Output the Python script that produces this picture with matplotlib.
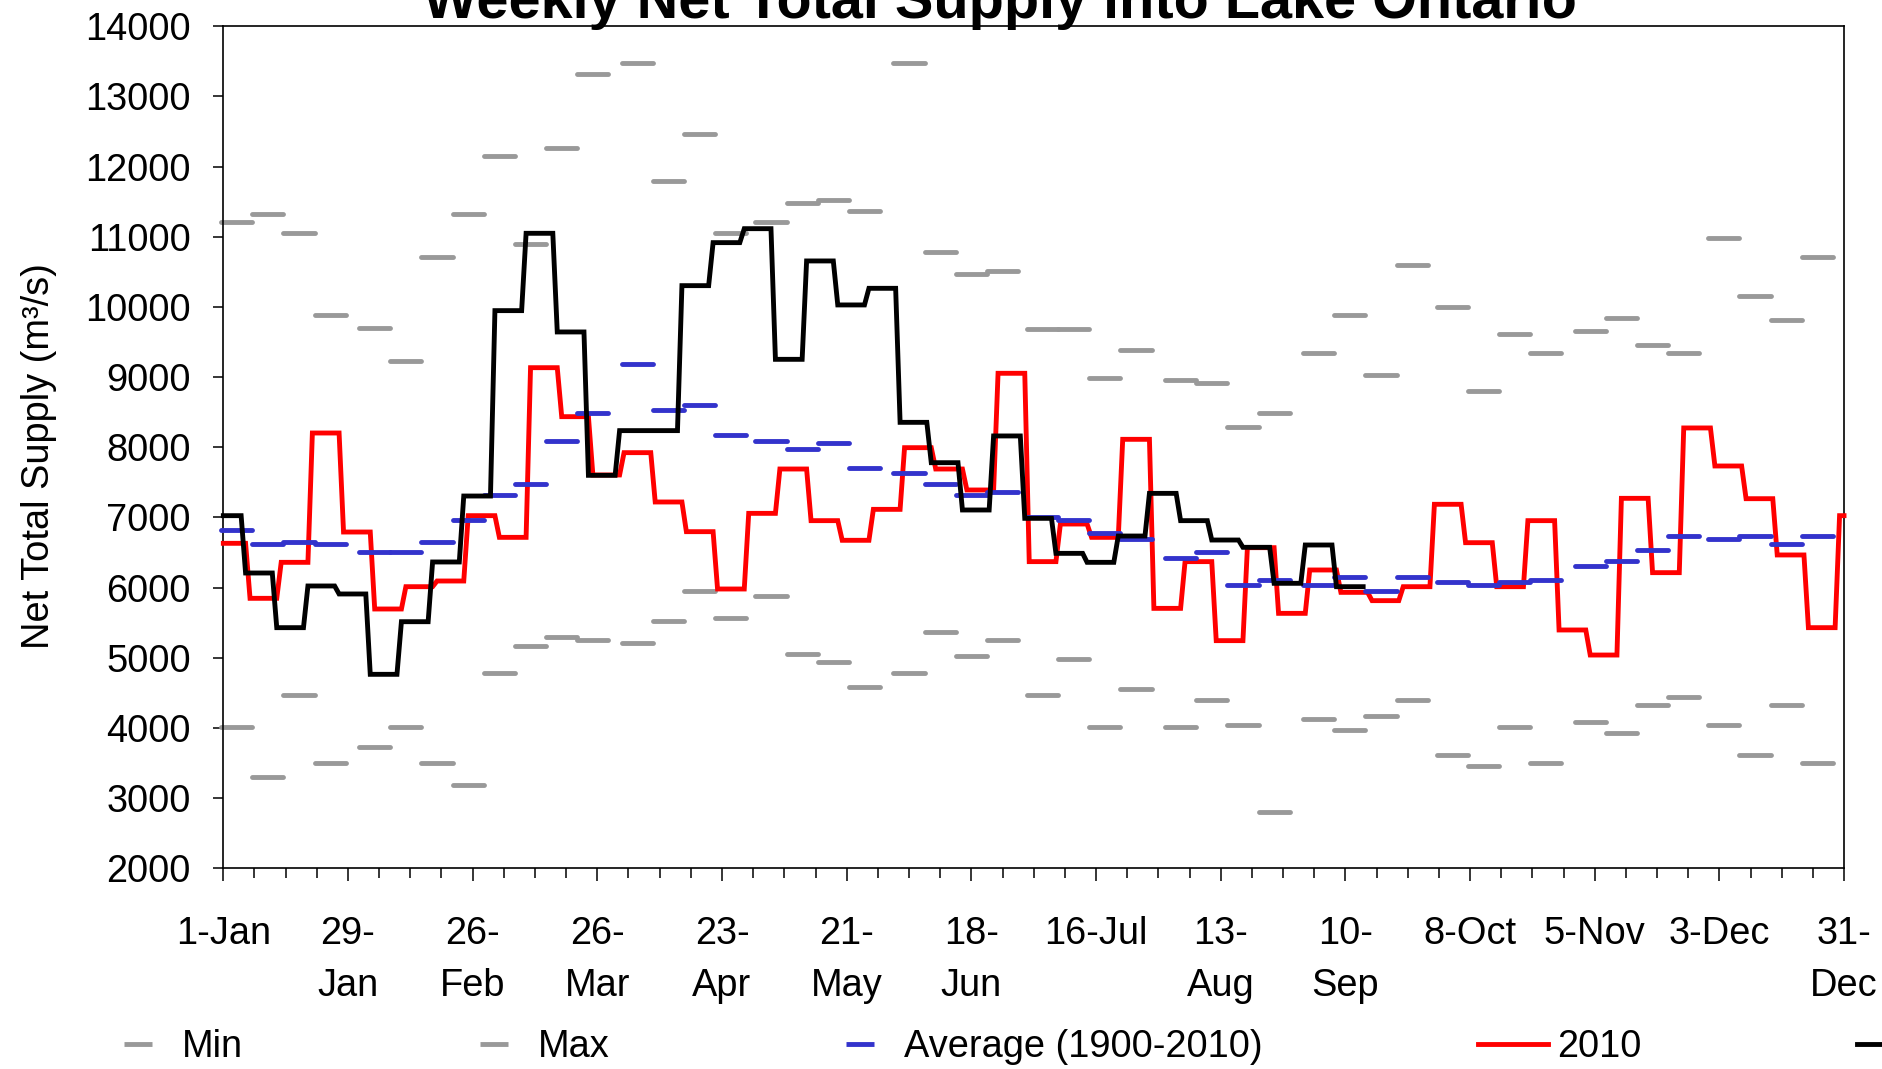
import numpy as np
import matplotlib
matplotlib.use("Agg")
import matplotlib.pyplot as plt
from matplotlib.lines import Line2D

plt.rcParams['font.family'] = ['Liberation Sans', 'DejaVu Sans']

# ---------------- data ----------------
title = "Weekly Net Total Supply into Lake Ontario"
ylabel = "Net Total Supply (m³/s)"

tick_labels = ['1-Jan', '29-\nJan', '26-\nFeb', '26-\nMar', '23-\nApr', '21-\nMay',
               '18-\nJun', '16-Jul', '13-\nAug', '10-\nSep', '8-Oct', '5-Nov',
               '3-Dec', '31-\nDec']

month_lengths = [31, 28, 31, 30, 31, 30, 31, 31, 30, 31, 30, 31]
qm_offsets = [0, 7, 14, 21]          # quarter-month start within month

# quarter-monthly statistics (48 values)
min_vals = [4010, 3306, 4475, 3506, 3734, 4010, 3506, 3188, 4784, 5173, 5292, 5254,
            5216, 5529, 5957, 5563, 5876, 5059, 4941, 4589, 4784, 5373, 5021, 5254,
            4475, 4983, 4010, 4556, 4010, 4394, 4048, 2798, 4124, 3971, 4166, 4399,
            3620, 3463, 4010, 3506, 4086, 3933, 4323, 4442, 4048, 3620, 4323, 3506]
max_vals = [11216, 11330, 11059, 9890, 9696, 9230, 10708, 11330, 12152, 10902, 12266, 13316,
            13477, 11798, 12461, 11059, 11216, 11487, 11525, 11373, 13477, 10784, 10470, 10508,
            9691, 9691, 8993, 9382, 8955, 8917, 8295, 8485, 9344, 9891, 9031, 10594,
            10005, 8798, 9615, 9344, 9658, 9848, 9458, 9344, 10979, 10162, 9810, 10708]
avg_vals = [6817, 6618, 6656, 6618, 6504, 6504, 6656, 6969, 7321, 7473, 8095, 8485,
            9192, 8527, 8603, 8176, 8095, 7981, 8057, 7710, 7629, 7473, 7316, 7359,
            7007, 6969, 6774, 6698, 6423, 6504, 6033, 6114, 6033, 6152, 5957, 6152,
            6076, 6033, 6076, 6109, 6309, 6385, 6537, 6732, 6694, 6732, 6618, 6732]

# weekly values (weeks start on Thursdays)
y2010 = [6632, 5848, 6361, 8204, 6793, 5696, 6014, 6095, 7026, 6717, 9135, 8437,
         7606, 7924, 7221, 6798, 5981, 7059, 7691, 6955, 6675, 7116, 7995, 7691,
         7392, 9055, 6371, 6907, 6717, 8114, 5705, 6371, 5245, 6570, 5634, 6252,
         5933, 5815, 6014, 7188, 6641, 6014, 6955, 5397, 5040, 7273, 6214, 8276,
         7734, 7268, 6466, 5430, 7026]
y2011 = [7026, 6209, 5430, 6024, 5910, 4765, 5515, 6366, 7306, 9948, 11050, 9644,
         7601, 8238, 8238, 10304, 10917, 11116, 9254, 10656, 10029, 10266, 8356, 7781,
         7107, 8162, 6988, 6489, 6361, 6736, 7344, 6955, 6679, 6575, 6062, 6608, 6014]

series_labels = ['Min', 'Max', 'Average (1900-2010)', '2010', '2011']

# ---------------- style ----------------
GRAY = '#999999'
BLUE = '#3333CC'
RED = '#FF0000'
BLACK = '#000000'
FS = 27.4

fig = plt.figure(figsize=(18.83, 10.69), dpi=100)
ax = fig.add_axes([0.1186, 0.1877, 0.8607, 0.7877])

# quarter-month positions (day of year, 0 = 1 Jan)
month_starts = np.concatenate([[0], np.cumsum(month_lengths)[:-1]])
qm_start = (month_starts[:, None] + np.array(qm_offsets)[None, :]).ravel()
qm_center = qm_start + 3

for vals, col, z in [(min_vals, GRAY, 2), (max_vals, GRAY, 2), (avg_vals, BLUE, 4)]:
    lc = ax.hlines(vals, qm_center - 3.5, qm_center + 3.5, colors=col,
                   linewidth=3.5, zorder=z, clip_on=False)
    lc.set_capstyle('round')

# weekly step lines drawn on daily resolution
d2010 = np.arange(0, 365)
v2010 = np.asarray(y2010)[(d2010 + 1) // 7]
ax.plot(d2010, v2010, color=RED, lw=3.5, zorder=3, clip_on=False,
        solid_joinstyle='miter')

d2011 = np.arange(0, 7 * len(y2011) - 2)
v2011 = np.asarray(y2011)[(d2011 + 2) // 7]
ax.plot(d2011, v2011, color=BLACK, lw=3.5, zorder=5, clip_on=False,
        solid_joinstyle='miter')

# axes
ax.set_xlim(0, 364)
ax.set_ylim(2000, 14000)
ax.set_xticks(np.arange(0, 365, 28))
ax.set_xticklabels(tick_labels, fontsize=FS, linespacing=1.58)
ax.set_xticks(np.arange(0, 365, 7), minor=True)
ax.set_yticks(np.arange(2000, 14001, 1000))
ax.tick_params(axis='y', labelsize=FS, length=7.4, width=1.1, pad=16, direction='out')
ax.tick_params(axis='x', which='major', length=9.4, width=1.1, pad=25, direction='out')
ax.tick_params(axis='x', which='minor', length=7.2, width=1.1, direction='out')
for s in ax.spines.values():
    s.set_linewidth(1.2)
    s.set_color('black')

ax.set_ylabel(ylabel, fontsize=FS, va='center')
ax.yaxis.set_label_coords((39 - 223.3) / (1844 - 223.3), 0.49)

fig.text(1000 / 1883, 1 - 18 / 1069, title, ha='center', va='baseline',
         fontsize=41.5, fontweight='bold')

handles = [
    Line2D([], [], ls='None', marker='_', ms=20, mew=3.5, color=GRAY),
    Line2D([], [], ls='None', marker='_', ms=20, mew=3.5, color=GRAY),
    Line2D([], [], ls='None', marker='_', ms=20, mew=3.5, color=BLUE),
    Line2D([], [], color=RED, lw=3.5),
    Line2D([], [], color=BLACK, lw=3.5),
]
fig.legend(handles, series_labels, loc='center left',
           bbox_to_anchor=(103 / 1883, 1 - 1047 / 1069), ncol=5, frameon=False,
           fontsize=FS, handlelength=1.84, handletextpad=0.24, columnspacing=5.66,
           borderpad=0, borderaxespad=0)

fig.savefig('out.png', dpi=100)
